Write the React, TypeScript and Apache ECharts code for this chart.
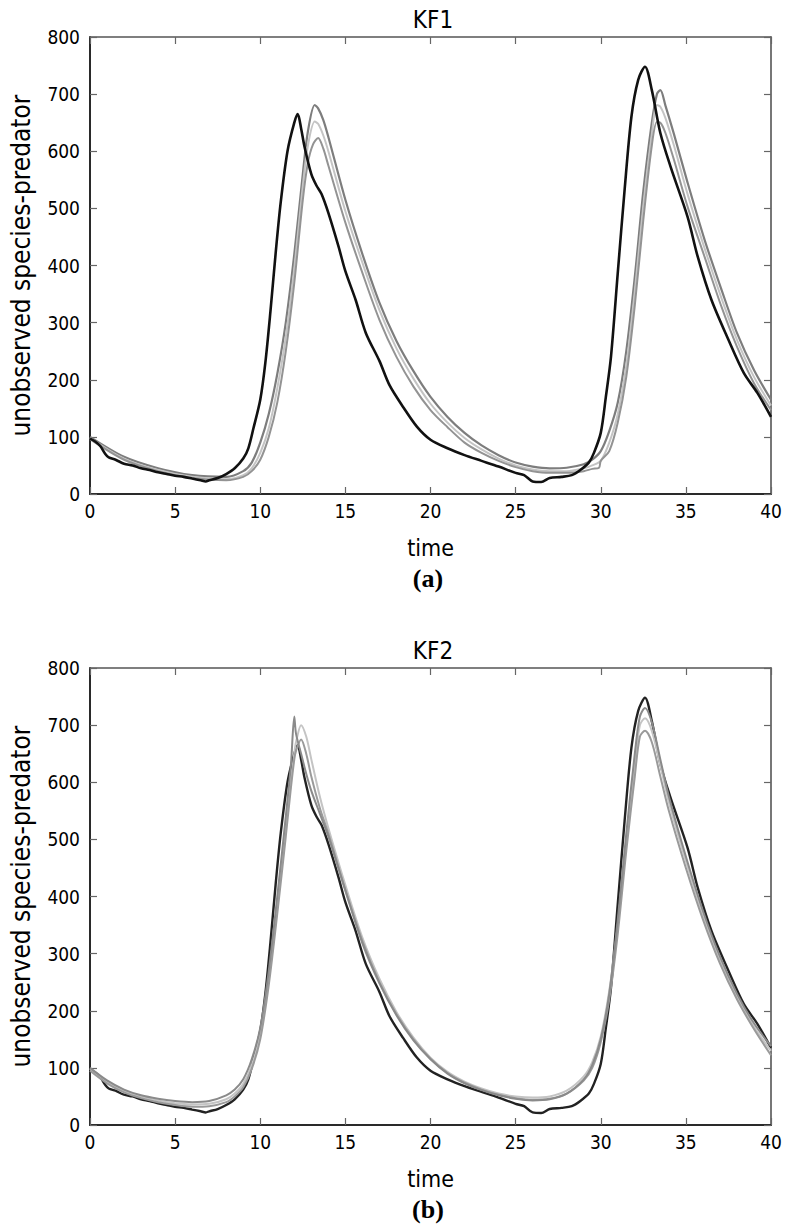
import React, { useEffect, useRef } from "react";
import * as echarts from "echarts";

// ---------- data ----------
const yTickLabels = ["0", "100", "200", "300", "400", "500", "600", "700", "800"];
const xTickLabels = ["0", "5", "10", "15", "20", "25", "30", "35", "40"];

// simulated (true) predator trajectory, shared by both panels
const truth: [number, number][] = [
  [0, 97], [0.3, 92], [0.6, 84], [0.9, 70], [1.1, 64], [1.5, 60], [2.0, 53], [2.5, 50], [3.0, 45],
  [3.5, 42], [4.0, 38], [4.5, 35], [5.0, 32], [5.5, 30], [6.0, 27], [6.5, 24], [6.8, 22],
  [7.0, 24], [7.5, 28], [8.0, 35], [8.5, 45], [9.0, 62], [9.3, 80], [9.6, 115], [10.0, 165],
  [10.3, 230], [10.6, 320], [10.9, 420], [11.2, 510], [11.6, 600], [12.0, 650], [12.2, 665],
  [12.4, 640], [12.6, 608], [13.0, 560], [13.3, 540], [13.6, 525], [14.0, 492], [14.6, 433],
  [15.0, 390], [15.6, 340], [16.2, 282], [17.0, 233], [17.6, 190], [18.4, 152], [19.2, 118],
  [20.0, 95], [21.0, 80], [22.0, 68], [23.0, 58], [24.0, 48], [25.0, 37], [25.5, 33], [26.0, 22],
  [26.5, 21], [27.0, 28], [27.7, 30], [28.3, 33], [28.8, 42], [29.3, 55], [29.6, 72], [30.0, 107],
  [30.3, 170], [30.6, 240], [31.0, 387], [31.4, 532], [31.8, 660], [32.2, 725], [32.6, 748],
  [33.0, 707], [33.5, 632], [34.1, 573], [35.1, 485], [35.7, 415], [36.5, 340], [37.5, 270],
  [38.4, 212], [39.2, 177], [40.0, 135],
];

// KF1 estimates
const kf1A: [number, number][] = [
  [0, 100], [2, 65], [4, 45], [6, 33], [8, 30], [9, 40], [9.5, 55], [10, 90], [10.5, 140],
  [11, 210], [11.5, 300], [12, 420], [12.5, 560], [12.8, 635], [13.2, 681], [13.4, 675],
  [13.7, 655], [14, 625], [15, 515], [16, 420], [17, 335], [18, 268], [19, 215], [20, 170],
  [21, 135], [22, 107], [23, 85], [24, 68], [25, 55], [26, 48], [27, 45], [28, 46], [29, 52],
  [29.5, 60], [30, 75], [30.5, 110], [31, 160], [31.5, 250], [32, 380], [32.5, 530], [33, 650],
  [33.3, 700], [33.5, 707], [33.8, 680], [34.3, 630], [35.1, 545], [36.1, 445], [37.1, 357],
  [38, 282], [39, 217], [40, 165],
];
const kf1B: [number, number][] = [
  [0, 98], [2, 62], [4, 42], [6, 30], [8, 26], [9, 33], [9.5, 45], [10, 72], [10.5, 115],
  [11, 185], [11.5, 275], [12, 395], [12.5, 540], [12.8, 610], [13.2, 652], [13.4, 648],
  [13.7, 628], [14, 600], [15, 495], [16, 405], [17, 322], [18, 255], [19, 202], [20, 158],
  [21, 125], [22, 98], [23, 78], [24, 62], [25, 50], [26, 43], [27, 40], [28, 40], [29, 45],
  [29.5, 50], [30, 58], [30.5, 90], [31, 140], [31.5, 225], [32, 355], [32.5, 505], [33, 630],
  [33.3, 681], [33.5, 678], [33.8, 658], [34.3, 610], [35.1, 525], [36.1, 430], [37.1, 342],
  [38, 270], [39, 205], [40, 155],
];
const kf1C: [number, number][] = [
  [0, 96], [2, 60], [4, 40], [6, 28], [8, 24], [9, 30], [9.5, 40], [10, 60], [10.5, 100],
  [11, 160], [11.5, 250], [12, 370], [12.5, 515], [12.8, 580], [13.1, 612], [13.4, 623],
  [13.7, 605], [14, 575], [15, 475], [16, 387], [17, 305], [18, 240], [19, 188], [20, 147],
  [21, 117], [22, 90], [23, 72], [24, 58], [25, 47], [26, 40], [27, 37], [28, 37], [29, 40],
  [29.5, 44], [29.9, 46], [30, 58], [30.5, 75], [31, 125], [31.5, 205], [32, 330], [32.5, 480],
  [33, 610], [33.3, 651], [33.5, 650], [33.8, 632], [34.3, 585], [35.1, 503], [36.1, 415],
  [37.1, 327], [38, 258], [39, 194], [40, 147],
];

// KF2 estimates
const kf2A: [number, number][] = [
  [0, 100], [1, 78], [2, 62], [3, 52], [4, 46], [5, 42], [6, 40], [7, 42], [8, 52], [8.5, 62],
  [9, 80], [9.5, 115], [10, 170], [10.5, 270], [11, 400], [11.5, 540], [11.8, 630], [12.0, 715],
  [12.1, 685], [12.4, 650], [12.7, 615], [13, 585], [13.5, 545], [14, 505], [15, 410], [16, 318],
  [17, 248], [18, 192], [19, 148], [20, 115], [21, 90], [22, 73], [23, 61], [24, 52], [25, 46],
  [26, 43], [27, 45], [28, 55], [29, 80], [29.5, 105], [30, 150], [30.5, 230], [31, 360],
  [31.5, 510], [32, 650], [32.3, 715], [32.6, 730], [33, 705], [33.5, 640], [34, 575], [35, 470],
  [36, 375], [37, 295], [38, 230], [39, 178], [40, 138],
];
const kf2B: [number, number][] = [
  [0, 98], [1, 76], [2, 60], [3, 50], [4, 43], [5, 38], [6, 36], [7, 37], [8, 45], [8.5, 55],
  [9, 72], [9.5, 105], [10, 160], [10.5, 255], [11, 380], [11.5, 520], [11.8, 600], [12.0, 650],
  [12.1, 670], [12.4, 700], [12.7, 680], [13, 640], [13.5, 575], [14, 520], [15, 420], [16, 328],
  [17, 256], [18, 198], [19, 153], [20, 118], [21, 93], [22, 76], [23, 64], [24, 55], [25, 50],
  [26, 48], [27, 50], [28, 60], [29, 85], [29.5, 110], [30, 155], [30.5, 235], [31, 350],
  [31.5, 495], [32, 630], [32.3, 700], [32.6, 712], [33, 690], [33.5, 630], [34, 565], [35, 462],
  [36, 368], [37, 290], [38, 225], [39, 172], [40, 130],
];
const kf2C: [number, number][] = [
  [0, 95], [1, 73], [2, 57], [3, 47], [4, 40], [5, 35], [6, 32], [7, 33], [8, 40], [8.5, 50],
  [9, 66], [9.5, 98], [10, 150], [10.5, 245], [11, 370], [11.5, 505], [11.8, 590], [12.0, 640],
  [12.1, 655], [12.4, 675], [12.7, 650], [13, 610], [13.5, 555], [14, 510], [15, 412], [16, 322],
  [17, 250], [18, 194], [19, 150], [20, 116], [21, 91], [22, 74], [23, 62], [24, 53], [25, 47],
  [26, 44], [27, 46], [28, 55], [29, 78], [29.5, 100], [30, 145], [30.5, 220], [31, 335],
  [31.5, 480], [32, 610], [32.3, 680], [32.6, 690], [33, 670], [33.5, 610], [34, 550], [35, 450],
  [36, 360], [37, 283], [38, 220], [39, 168], [40, 122],
];

const panelTitles = ["KF1", "KF2"];
const panelCaptions = ["(a)", "(b)"];
const xName = "time";
const yName = "unobserved species-predator";

// ---------- chart ----------
const FONT = "'DejaVu Sans Condensed', 'DejaVu Sans', sans-serif";
const AXIS_COLOR = "#2a2a2a";

export default function App() {
  const ref = useRef<HTMLDivElement>(null);

  useEffect(() => {
    document.body.style.margin = "0";
    if (!ref.current) return;
    const chart = echarts.init(ref.current, undefined, { renderer: "svg" });

    const gridTops = [37, 668];
    const grids = gridTops.map((top) => ({ left: 86, top, width: 685, height: 457 }));

    const xAxes: any[] = [];
    const yAxes: any[] = [];
    [0, 1].forEach((g) => {
      xAxes.push({
        type: "value", gridIndex: g, min: 0, max: 40, interval: 5, position: "bottom",
        name: xName, nameLocation: "middle", nameGap: 42,
        nameTextStyle: { fontFamily: FONT, fontSize: 23, color: "#000" },
        axisLine: { show: true, onZero: false, lineStyle: { color: AXIS_COLOR, width: 2 } },
        axisTick: { show: true, inside: true, length: 7, lineStyle: { color: "#666", width: 1.2 } },
        axisLabel: {
          margin: 7, fontFamily: FONT, fontSize: 19, color: "#000",
          formatter: (v: number) => xTickLabels[Math.round(v / 5)] ?? "",
        },
        splitLine: { show: false },
      });
      xAxes.push({
        type: "value", gridIndex: g, min: 0, max: 40, interval: 5, position: "top",
        axisLine: { show: true, onZero: false, lineStyle: { color: "#555", width: 1.6 } },
        axisTick: { show: true, inside: true, length: 7, lineStyle: { color: "#666", width: 1.2 } },
        axisLabel: { show: false },
        splitLine: { show: false },
      });
      yAxes.push({
        type: "value", gridIndex: g, min: 0, max: 800, interval: 100, position: "left",
        name: yName, nameLocation: "middle", nameGap: 56, nameRotate: 90,
        nameTextStyle: { fontFamily: FONT, fontSize: 26, color: "#000" },
        axisLine: { show: true, onZero: false, lineStyle: { color: AXIS_COLOR, width: 2 } },
        axisTick: { show: true, inside: true, length: 7, lineStyle: { color: "#666", width: 1.2 } },
        axisLabel: {
          margin: 10, fontFamily: FONT, fontSize: 19, color: "#000",
          formatter: (v: number) => yTickLabels[Math.round(v / 100)] ?? "",
        },
        splitLine: { show: false },
      });
      yAxes.push({
        type: "value", gridIndex: g, min: 0, max: 800, interval: 100, position: "right",
        axisLine: { show: true, onZero: false, lineStyle: { color: "#555", width: 1.6 } },
        axisTick: { show: true, inside: true, length: 7, lineStyle: { color: "#666", width: 1.2 } },
        axisLabel: { show: false },
        splitLine: { show: false },
      });
    });

    const line = (g: number, data: [number, number][], color: string, width: number, z: number) => ({
      type: "line",
      xAxisIndex: g * 2,
      yAxisIndex: g * 2,
      data,
      showSymbol: false,
      symbol: "none",
      smooth: 0.3,
      lineStyle: { color, width },
      z,
      silent: true,
    });

    const series = [
      line(0, kf1A, "#7d7d7d", 2.2, 2),
      line(0, kf1B, "#c4c4c4", 2.0, 3),
      line(0, kf1C, "#939393", 2.0, 4),
      line(0, truth, "#111111", 2.6, 5),
      line(1, kf2A, "#8a8a8a", 2.0, 5),
      line(1, kf2B, "#c4c4c4", 2.0, 3),
      line(1, kf2C, "#9a9a9a", 2.0, 4),
      line(1, truth, "#222222", 2.4, 2),
    ];

    chart.setOption({
      animation: false,
      backgroundColor: "#ffffff",
      title: gridTops.map((top, i) => ({
        text: panelTitles[i],
        left: 428,
        top: top - 34,
        textAlign: "center",
        textStyle: { fontFamily: FONT, fontSize: 24, fontWeight: "normal", color: "#000" },
      })),
      grid: grids,
      xAxis: xAxes,
      yAxis: yAxes,
      series,
      graphic: gridTops.map((top, i) => ({
        type: "text",
        x: 428,
        y: top + 541,
        style: {
          text: panelCaptions[i],
          fontFamily: "'Liberation Serif', 'Times New Roman', serif",
          fontWeight: "bold",
          fontSize: 26,
          fill: "#000",
          textAlign: "center",
          textVerticalAlign: "middle",
        },
      })),
    });

    return () => chart.dispose();
  }, []);

  return <div ref={ref} style={{ width: 786, height: 1231 }} />;
}
